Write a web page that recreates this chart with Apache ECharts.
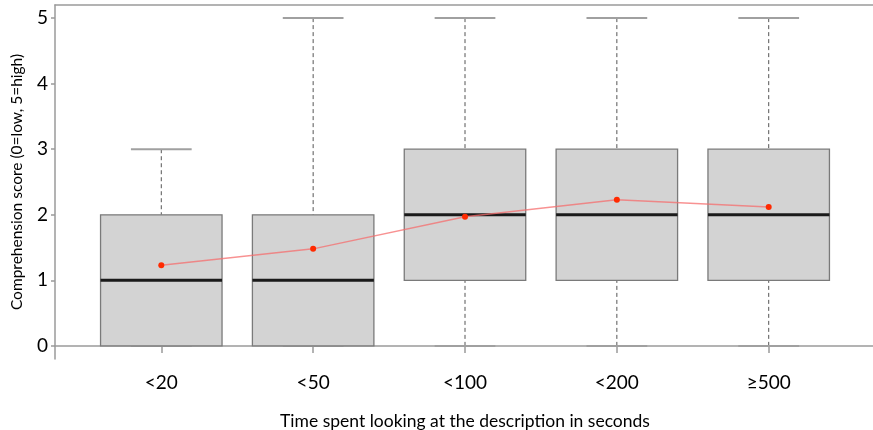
<!DOCTYPE html>
<html lang="en">
<head>
    <meta charset="UTF-8">
    <title>Comprehension score</title>
    <script type="text/javascript" src="https://cdn.jsdelivr.net/npm/echarts@6/dist/echarts.min.js"></script>
</head>
<body style="margin:0">
    <div id="chart1" style="width:873px;height:430px;"></div>
</body>
<script type="text/javascript">
    // reading time groups
    var categories = ['<20', '<50', '<100', '<200', '≥500']
    // box plot stats per group
    var whiskerLow = [0, 0, 0, 0, 0]
    var q1 = [0, 0, 1, 1, 1]
    var median = [1, 1, 2, 2, 2]
    var q3 = [2, 2, 3, 3, 3]
    var whiskerHigh = [3, 5, 5, 5, 5]
    // mean score per group
    var means = [1.23, 1.48, 1.97, 2.23, 2.12]
    var yTicks = [0, 1, 2, 3, 4, 5]
    var xTicks = [1, 2, 3, 4, 5]

    var boxData = categories.map(function (c, i) {
        return [i + 1, whiskerLow[i], q1[i], median[i], q3[i], whiskerHigh[i]]
    })
    var meanData = means.map(function (m, i) { return [i + 1, m] })

    var fontFam = 'Lato, "Open Sans", sans-serif'
    var axisCol = '#9a9a9a'

    function renderBox(params, api) {
        var x = api.value(0)
        var lo = api.coord([x, api.value(1)])
        var b1 = api.coord([x - 0.4, api.value(2)])
        var med1 = api.coord([x - 0.4, api.value(3)])
        var b2 = api.coord([x + 0.4, api.value(4)])
        var hi = api.coord([x, api.value(5)])
        var c1 = api.coord([x - 0.2, 0])[0]
        var c2 = api.coord([x + 0.2, 0])[0]
        var dash = {stroke: '#555', lineWidth: 1, lineDash: [4, 3]}
        var cap = {stroke: '#a0a0a0', lineWidth: 2}
        return {
            type: 'group',
            children: [
                {type: 'line', shape: {x1: lo[0], y1: lo[1], x2: lo[0], y2: b1[1]}, style: dash},
                {type: 'line', shape: {x1: hi[0], y1: hi[1], x2: hi[0], y2: b2[1]}, style: dash},
                {type: 'line', shape: {x1: c1, y1: lo[1], x2: c2, y2: lo[1]}, style: cap},
                {type: 'line', shape: {x1: c1, y1: hi[1], x2: c2, y2: hi[1]}, style: cap},
                {type: 'rect', shape: {x: b1[0], y: b2[1], width: b2[0] - b1[0], height: b1[1] - b2[1]},
                    style: {fill: '#d3d3d3', stroke: '#7a7a7a', lineWidth: 1.3}},
                {type: 'line', shape: {x1: med1[0], y1: med1[1], x2: b2[0], y2: med1[1]},
                    style: {stroke: '#1a1a1a', lineWidth: 3}}
            ]
        }
    }

    var chart = echarts.init(document.getElementById('chart1'))
    var option = {
        animation: false,
        grid: {left: 55, top: 5, right: -2, bottom: 71, containLabel: false, outerBoundsMode: 'none'},
        xAxis: [{
            type: 'value',
            min: 0.3,
            max: 5.7,
            splitLine: {show: false},
            axisLine: {show: true, lineStyle: {color: axisCol, width: 1.5}},
            axisTick: {show: true, customValues: xTicks, length: 7, lineStyle: {color: axisCol, width: 1.5}},
            axisLabel: {
                customValues: xTicks, margin: 14, color: '#000', fontSize: 19, fontFamily: fontFam,
                formatter: function (v) { return categories[Math.round(v) - 1] }
            },
            name: 'Time spent looking at the description in seconds',
            nameLocation: 'middle',
            nameGap: 53,
            nameTextStyle: {color: '#000', fontSize: 17.5, fontFamily: fontFam}
        }, {
            type: 'value',
            position: 'top',
            min: 0.3,
            max: 5.7,
            splitLine: {show: false},
            axisLine: {show: true, lineStyle: {color: axisCol, width: 1.5}},
            axisTick: {show: false},
            axisLabel: {show: false}
        }],
        yAxis: {
            type: 'value',
            min: -0.2,
            max: 5.2,
            splitLine: {show: false},
            axisLine: {show: true, lineStyle: {color: axisCol, width: 1.5}},
            axisTick: {show: true, customValues: yTicks, length: 4, lineStyle: {color: axisCol, width: 1.5}},
            axisLabel: {customValues: yTicks, margin: 7, color: '#000', fontSize: 19, fontFamily: fontFam},
            name: 'Comprehension score (0=low, 5=high)',
            nameLocation: 'middle',
            nameGap: 30,
            nameTextStyle: {color: '#000', fontSize: 15.5, fontFamily: fontFam}
        },
        series: [{
            type: 'custom',
            renderItem: renderBox,
            encode: {x: 0, y: [1, 2, 3, 4, 5]},
            data: boxData,
            z: 2
        }, {
            type: 'line',
            data: meanData,
            symbol: 'circle',
            symbolSize: 6,
            itemStyle: {color: '#ff2a00'},
            lineStyle: {color: 'rgba(245,110,110,0.75)', width: 1.5},
            z: 3
        }]
    }
    chart.setOption(option)
</script>
</html>
